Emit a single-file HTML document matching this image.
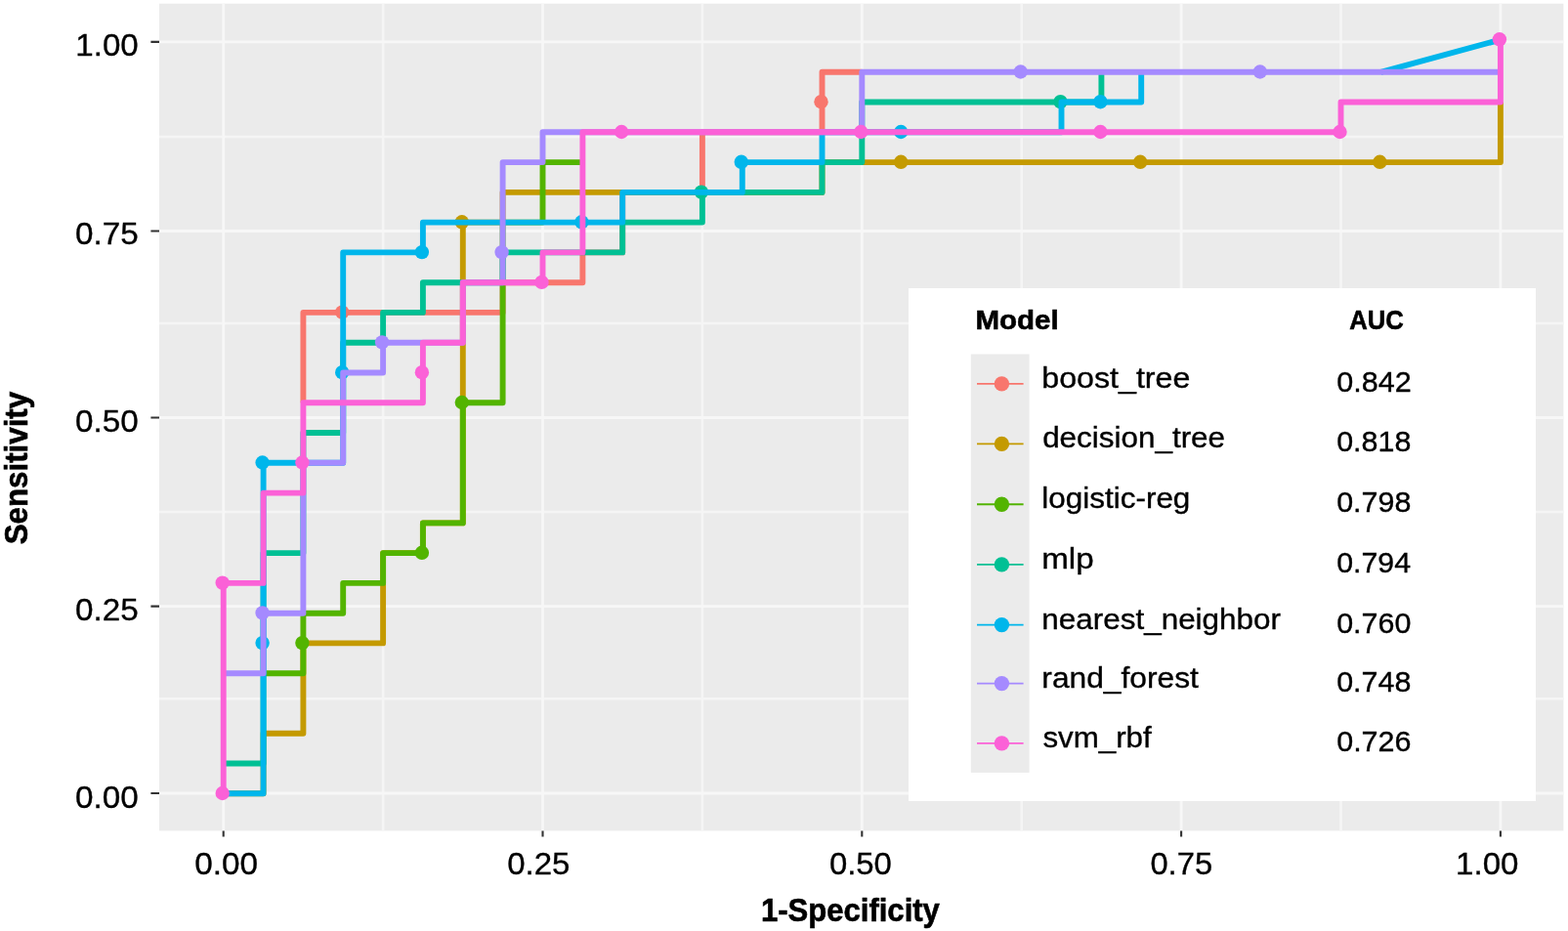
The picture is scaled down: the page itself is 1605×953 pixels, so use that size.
<!DOCTYPE html>
<html lang="en">
<head>
<meta charset="utf-8">
<title>ROC curves</title>
<style>
html,body{margin:0;padding:0;background:#ffffff;}
body{width:1605px;height:953px;overflow:hidden;}
svg{display:block;}
svg text{font-family:"Liberation Sans",sans-serif;}
</style>
</head>
<body>
<svg width="1605" height="953" viewBox="0 0 1605 953">
<rect x="0" y="0" width="1605" height="953" fill="#ffffff"/>
<rect x="163.0" y="3.7" width="1437.4" height="846.7" fill="#EBEBEB"/>
<path d="M392.1 3.7V850.4M163.0 715.3H1600.4M718.9 3.7V850.4M163.0 524.0H1600.4M1045.7 3.7V850.4M163.0 331.0H1600.4M1372.5 3.7V850.4M163.0 140.0H1600.4" stroke="#F5F5F5" stroke-width="2.6" fill="none"/>
<path d="M228.7 3.7V850.4M163.0 812.0H1600.4M555.5 3.7V850.4M163.0 620.6H1600.4M882.3 3.7V850.4M163.0 427.5H1600.4M1209.1 3.7V850.4M163.0 236.5H1600.4M1535.9 3.7V850.4M163.0 42.9H1600.4" stroke="#F7F7F7" stroke-width="2.8" fill="none"/>
<g fill="#F8766D" stroke="none">
<path d="M310.4 412.3L310.4 319.9L514.6 319.9L514.6 289.2L596.4 289.2L596.4 258.4L637.2 258.4L637.2 196.9L718.9 196.9L718.9 135.3L841.5 135.3L841.5 73.8L882.3 73.8" fill="none" stroke="#F8766D" stroke-width="5.9" stroke-linejoin="round" stroke-linecap="butt"/>
<circle cx="350.2" cy="319.6" r="7.2"/>
<circle cx="840.5" cy="104.2" r="7.2"/>
</g>
<g fill="#C49A00" stroke="none">
<path d="M228.7 812.3L269.6 812.3L269.6 750.8L310.4 750.8L310.4 658.4L392.1 658.4L392.1 566.1L432.9 566.1L432.9 535.4L473.8 535.4L473.8 227.6L514.6 227.6L514.6 196.9L637.2 196.9L759.8 196.9L841.5 196.9L841.5 166.1L882.3 166.1L1535.9 166.1L1535.9 104.5" fill="none" stroke="#C49A00" stroke-width="5.9" stroke-linejoin="round" stroke-linecap="butt"/>
<circle cx="472.8" cy="227.3" r="7.2"/>
<circle cx="922.2" cy="165.8" r="7.2"/>
<circle cx="1167.2" cy="165.8" r="7.2"/>
<circle cx="1412.4" cy="165.8" r="7.2"/>
</g>
<g fill="#53B400" stroke="none">
<path d="M269.6 689.2L310.4 689.2L310.4 627.7L351.2 627.7L351.2 596.9L392.1 596.9L392.1 566.1L432.9 566.1L432.9 535.4L473.8 535.4L473.8 412.3L514.6 412.3L514.6 227.6L555.5 227.6L555.5 166.1L596.4 166.1" fill="none" stroke="#53B400" stroke-width="5.9" stroke-linejoin="round" stroke-linecap="butt"/>
<circle cx="309.4" cy="658.1" r="7.2"/>
<circle cx="431.9" cy="565.8" r="7.2"/>
<circle cx="472.8" cy="412.0" r="7.2"/>
</g>
<g fill="#00C094" stroke="none">
<path d="M228.7 781.5L269.6 781.5L269.6 566.1L310.4 566.1L310.4 443.0L351.2 443.0L351.2 350.7L392.1 350.7L392.1 319.9L432.9 319.9L432.9 289.2L514.6 289.2L514.6 258.4L637.2 258.4L637.2 227.6L718.9 227.6L718.9 196.9L841.5 196.9L841.5 166.1L882.3 166.1L882.3 104.5L1127.4 104.5L1127.4 73.8" fill="none" stroke="#00C094" stroke-width="5.9" stroke-linejoin="round" stroke-linecap="butt"/>
<circle cx="717.9" cy="196.6" r="7.2"/>
<circle cx="1085.5" cy="104.2" r="7.2"/>
</g>
<g fill="#00B6EB" stroke="none">
<path d="M228.7 812.3L269.6 812.3L269.6 473.8L310.4 473.8L351.2 473.8L351.2 258.4L432.9 258.4L432.9 227.6L637.2 227.6L637.2 196.9L759.8 196.9L759.8 166.1L841.5 166.1L841.5 135.3L1086.5 135.3L1086.5 104.5L1168.2 104.5L1168.2 73.8M1413.4 73.8L1535.9 40.6" fill="none" stroke="#00B6EB" stroke-width="5.9" stroke-linejoin="round" stroke-linecap="butt"/>
<circle cx="268.6" cy="658.1" r="7.2"/>
<circle cx="268.6" cy="473.5" r="7.2"/>
<circle cx="350.2" cy="381.2" r="7.2"/>
<circle cx="431.9" cy="258.1" r="7.2"/>
<circle cx="595.4" cy="227.3" r="7.2"/>
<circle cx="758.8" cy="165.8" r="7.2"/>
<circle cx="922.2" cy="135.0" r="7.2"/>
<circle cx="1126.4" cy="104.2" r="7.2"/>
</g>
<g fill="#A58AFF" stroke="none">
<path d="M228.7 689.2L269.6 689.2L269.6 627.7L310.4 627.7L310.4 473.8L351.2 473.8L351.2 381.5L392.1 381.5L392.1 350.7L473.8 350.7L473.8 289.2L514.6 289.2L514.6 166.1L555.5 166.1L555.5 135.3L882.3 135.3L882.3 73.8L1535.9 73.8" fill="none" stroke="#A58AFF" stroke-width="5.9" stroke-linejoin="round" stroke-linecap="butt"/>
<circle cx="268.6" cy="627.4" r="7.2"/>
<circle cx="391.1" cy="350.4" r="7.2"/>
<circle cx="513.6" cy="258.1" r="7.2"/>
<circle cx="1044.7" cy="73.5" r="7.2"/>
<circle cx="1289.8" cy="73.5" r="7.2"/>
</g>
<g fill="#FB61D7" stroke="none">
<path d="M228.7 812.3L228.7 596.9L269.6 596.9L269.6 504.6L310.4 504.6L310.4 412.3L432.9 412.3L432.9 350.7L473.8 350.7L473.8 289.2L555.5 289.2L555.5 258.4L596.4 258.4L596.4 135.3L1372.5 135.3L1372.5 104.5L1535.9 104.5L1535.9 40.6" fill="none" stroke="#FB61D7" stroke-width="5.9" stroke-linejoin="round" stroke-linecap="butt"/>
<circle cx="227.7" cy="812.0" r="7.2"/>
<circle cx="227.7" cy="596.6" r="7.2"/>
<circle cx="309.4" cy="473.5" r="7.2"/>
<circle cx="431.9" cy="381.2" r="7.2"/>
<circle cx="554.5" cy="288.9" r="7.2"/>
<circle cx="636.2" cy="135.0" r="7.2"/>
<circle cx="881.3" cy="135.0" r="7.2"/>
<circle cx="1126.4" cy="135.0" r="7.2"/>
<circle cx="1371.5" cy="135.0" r="7.2"/>
<circle cx="1534.9" cy="40.3" r="7.2"/>
</g>
<path d="M228.7 850.4v6.2M154.4 812.0h8.6M555.5 850.4v6.2M154.4 620.6h8.6M882.3 850.4v6.2M154.4 427.5h8.6M1209.1 850.4v6.2M154.4 236.5h8.6M1535.9 850.4v6.2M154.4 42.9h8.6" stroke="#333333" stroke-width="2.1" fill="none"/>
<rect x="930.0" y="295.0" width="642.0" height="525.0" fill="#ffffff"/>
<rect x="993.8" y="362.5" width="59.8" height="428.4" fill="#EBEBEB"/>
<path d="M1000 392.9H1047.6" stroke="#F8766D" stroke-width="1.9" fill="none"/>
<circle cx="1025.4" cy="392.9" r="7.7" fill="#F8766D"/>
<path d="M1000 454.4H1047.6" stroke="#C49A00" stroke-width="1.9" fill="none"/>
<circle cx="1025.4" cy="454.4" r="7.7" fill="#C49A00"/>
<path d="M1000 516.2H1047.6" stroke="#53B400" stroke-width="1.9" fill="none"/>
<circle cx="1025.4" cy="516.2" r="7.7" fill="#53B400"/>
<path d="M1000 577.9H1047.6" stroke="#00C094" stroke-width="1.9" fill="none"/>
<circle cx="1025.4" cy="577.9" r="7.7" fill="#00C094"/>
<path d="M1000 639.6H1047.6" stroke="#00B6EB" stroke-width="1.9" fill="none"/>
<circle cx="1025.4" cy="639.6" r="7.7" fill="#00B6EB"/>
<path d="M1000 699.6H1047.6" stroke="#A58AFF" stroke-width="1.9" fill="none"/>
<circle cx="1025.4" cy="699.6" r="7.7" fill="#A58AFF"/>
<path d="M1000 760.9H1047.6" stroke="#FB61D7" stroke-width="1.9" fill="none"/>
<circle cx="1025.4" cy="760.9" r="7.7" fill="#FB61D7"/>
<text transform="translate(1066.31 397.00) scale(1.1027 1)" font-size="29.2" stroke="#000" stroke-width="0.35" fill="#000000">boost_tree</text>
<text transform="translate(1368.18 401.00) scale(1.0402 1)" font-size="29.4" stroke="#000" stroke-width="0.35" fill="#000000">0.842</text>
<text transform="translate(1067.14 458.40) scale(1.0765 1)" font-size="29.2" stroke="#000" stroke-width="0.35" fill="#000000">decision_tree</text>
<text transform="translate(1368.18 462.40) scale(1.0359 1)" font-size="29.4" stroke="#000" stroke-width="0.35" fill="#000000">0.818</text>
<text transform="translate(1066.36 519.80) scale(1.0773 1)" font-size="29.2" stroke="#000" stroke-width="0.35" fill="#000000">logistic-reg</text>
<text transform="translate(1368.18 523.80) scale(1.0359 1)" font-size="29.4" stroke="#000" stroke-width="0.35" fill="#000000">0.798</text>
<text transform="translate(1066.24 582.20) scale(1.1355 1)" font-size="29.2" stroke="#000" stroke-width="0.35" fill="#000000">mlp</text>
<text transform="translate(1368.19 586.20) scale(1.0316 1)" font-size="29.4" stroke="#000" stroke-width="0.35" fill="#000000">0.794</text>
<text transform="translate(1066.36 644.00) scale(1.0768 1)" font-size="29.2" stroke="#000" stroke-width="0.35" fill="#000000">nearest_neighbor</text>
<text transform="translate(1368.18 648.00) scale(1.0359 1)" font-size="29.4" stroke="#000" stroke-width="0.35" fill="#000000">0.760</text>
<text transform="translate(1066.34 704.20) scale(1.0868 1)" font-size="29.2" stroke="#000" stroke-width="0.35" fill="#000000">rand_forest</text>
<text transform="translate(1368.18 708.20) scale(1.0359 1)" font-size="29.4" stroke="#000" stroke-width="0.35" fill="#000000">0.748</text>
<text transform="translate(1067.46 765.40) scale(1.0720 1)" font-size="29.2" stroke="#000" stroke-width="0.35" fill="#000000">svm_rbf</text>
<text transform="translate(1368.18 769.40) scale(1.0380 1)" font-size="29.4" stroke="#000" stroke-width="0.35" fill="#000000">0.726</text>
<text transform="translate(998.48 336.50) scale(1.0685 1)" font-size="27.6" font-weight="bold" stroke="#000" stroke-width="0.6" fill="#000000">Model</text>
<text transform="translate(1381.36 337.00) scale(0.9152 1)" font-size="28.0" font-weight="bold" stroke="#000" stroke-width="0.6" fill="#000000">AUC</text>
<text transform="translate(77.07 827.20) scale(1.0520 1)" font-size="31.6" stroke="#000" stroke-width="0.35" fill="#000000">0.00</text>
<text transform="translate(77.07 634.65) scale(1.0520 1)" font-size="31.6" stroke="#000" stroke-width="0.35" fill="#000000">0.25</text>
<text transform="translate(77.07 442.10) scale(1.0520 1)" font-size="31.6" stroke="#000" stroke-width="0.35" fill="#000000">0.50</text>
<text transform="translate(77.07 249.55) scale(1.0520 1)" font-size="31.6" stroke="#000" stroke-width="0.35" fill="#000000">0.75</text>
<text transform="translate(77.32 57.00) scale(1.0479 1)" font-size="31.6" stroke="#000" stroke-width="0.35" fill="#000000">1.00</text>
<text transform="translate(199.17 895.10) scale(1.0554 1)" font-size="31.6" stroke="#000" stroke-width="0.35" fill="#000000">0.00</text>
<text transform="translate(519.18 895.10) scale(1.0435 1)" font-size="31.6" stroke="#000" stroke-width="0.35" fill="#000000">0.25</text>
<text transform="translate(848.89 895.10) scale(1.0401 1)" font-size="31.6" stroke="#000" stroke-width="0.35" fill="#000000">0.50</text>
<text transform="translate(1177.39 895.10) scale(1.0368 1)" font-size="31.6" stroke="#000" stroke-width="0.35" fill="#000000">0.75</text>
<text transform="translate(1490.12 895.10) scale(1.0462 1)" font-size="31.6" stroke="#000" stroke-width="0.35" fill="#000000">1.00</text>
<text transform="translate(778.98 942.80) scale(0.9588 1)" font-size="32.4" font-weight="bold" stroke="#000" stroke-width="0.6" fill="#000000">1-Specificity</text>
<text transform="translate(28.3 557.24) rotate(-90) scale(0.9654 1)" font-size="32.4" font-weight="bold" stroke="#000" stroke-width="0.6" fill="#000000">Sensitivity</text>
</svg>
</body>
</html>
